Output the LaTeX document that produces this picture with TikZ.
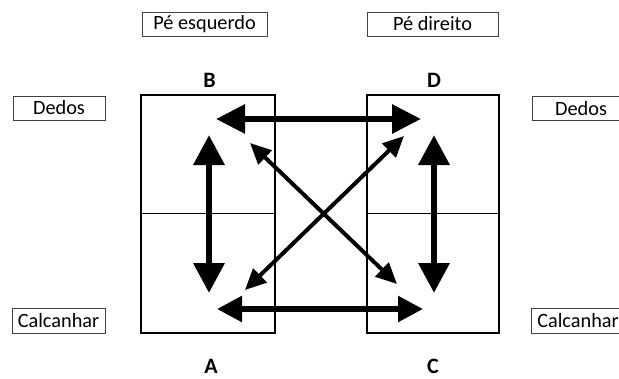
\documentclass[tikz,border=0pt]{standalone}
\usepackage{fontspec}
\setmainfont{Carlito}
\usetikzlibrary{arrows.meta}
\begin{document}
\begin{tikzpicture}[x=1pt,y=-1pt,
  labelbox/.style={draw=black!75, line width=0.8pt, inner sep=0pt,
    minimum height=24pt, font=\fontsize{20.3}{24}\selectfont},
  letter/.style={inner sep=0pt, font=\fontsize{22}{26}\selectfont\bfseries},
  foot/.style={draw, line width=1.4pt},
  halfline/.style={draw, line width=0.8pt},
  toparrow/.style={line width=6pt, {Triangle[length=29pt,width=28pt]}-{Triangle[length=29pt,width=28pt]}},
  botarrow/.style={line width=5.5pt, {Triangle[length=25pt,width=25pt]}-{Triangle[length=25pt,width=25pt]}},
  vertarrow/.style={line width=6.5pt, {Triangle[length=30pt,width=30pt]}-{Triangle[length=30pt,width=30pt]}},
  diagarrow/.style={line width=4pt, {Triangle[length=21pt,width=19pt]}-{Triangle[length=21pt,width=19pt]}}]
\useasboundingbox (0,0) rectangle (619,378);
\clip (0,0) rectangle (619,378);

% the two feet, each split into toes and heel
\draw[foot] (141,95) rectangle (275,333);
\draw[halfline] (141,213) -- (275,213);
\draw[foot] (367,95) rectangle (499,333);
\draw[halfline] (367,213) -- (499,213);

% captions
\node[labelbox, minimum width=125pt] (left) at (204.5,24) {Pé esquerdo};
\node[labelbox, minimum width=131pt] (right) at (432.5,24) {Pé direito};
\node[labelbox, minimum width=92pt] (toesL) at (59,108) {Dedos};
\node[labelbox, minimum width=98pt] (toesR) at (581,108.5) {Dedos};
\node[labelbox, minimum width=93pt, minimum height=25pt] (heelL) at (58.5,320.5) {Calcanhar};
\node[labelbox, minimum width=94pt, minimum height=25pt] (heelR) at (578,320.5) {Calcanhar};

% corner letters
\node[letter] (B) at (209.5,80) {B};
\node[letter] (D) at (434,80) {D};
\node[letter] (A) at (211,366) {A};
\node[letter] (C) at (433,366) {C};

% arrow end points
\coordinate (bTop) at (216,119);
\coordinate (dTop) at (421,119);
\coordinate (aBot) at (217,309);
\coordinate (cBot) at (423,309);
\coordinate (bUp) at (209,135);
\coordinate (aDown) at (209,293);
\coordinate (dUp) at (434,135);
\coordinate (cDown) at (434,293);
\coordinate (bDiag) at (250,143);
\coordinate (cDiag) at (397,284);
\coordinate (dDiag) at (404,136);
\coordinate (aDiag) at (245,290);

% movements between the four zones
\draw[toparrow] (bTop) -- (dTop);
\draw[botarrow] (aBot) -- (cBot);
\draw[vertarrow] (bUp) -- (aDown);
\draw[vertarrow] (dUp) -- (cDown);
\draw[diagarrow] (bDiag) -- (cDiag);
\draw[diagarrow] (dDiag) -- (aDiag);
\end{tikzpicture}
\end{document}
